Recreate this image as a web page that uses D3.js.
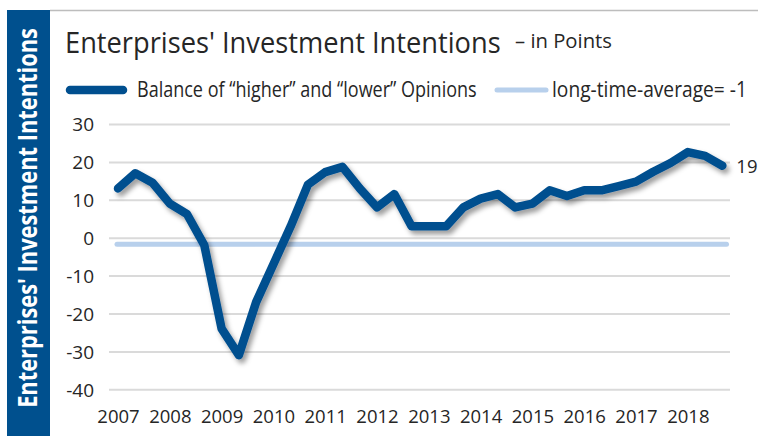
<!DOCTYPE html>
<html>
<head>
<meta charset="utf-8">
<script src="https://cdn.jsdelivr.net/npm/d3@7/dist/d3.min.js"></script>
<style>
  html, body { margin: 0; padding: 0; background: #fff; }
  svg { display: block; }
  text { font-family: "Open Sans", "Noto Sans", sans-serif; }
</style>
</head>
<body>
<svg id="chart" width="758" height="436"></svg>
<script>
// ---- data ----
const years = [2007, 2008, 2009, 2010, 2011, 2012, 2013, 2014, 2015, 2016, 2017, 2018];
// three survey points per year
const balance = [
  13, 17, 14.5,
  9, 6.2, -2,
  -24, -31, -17,
  -7, 3, 14,
  17.3, 18.7, 13,
  8, 11.5, 3,
  3, 3, 8,
  10.3, 11.5, 8,
  9, 12.5, 11,
  12.5, 12.5, 13.6,
  14.8, 17.4, 19.7,
  22.6, 21.6, 19
];
const longTimeAverage = -1.7;
const yTicks = [30, 20, 10, 0, -10, -20, -30, -40];
const titleText = "Enterprises' Investment Intentions";
const subtitleText = "– in Points";
const legendLabels = ["Balance of “higher” and “lower” Opinions", "long-time-average= -1"];
const lastLabel = "19";

// ---- drawing ----
const svg = d3.select("#chart");
const darkBlue = "#004f8f";
const lightBlue = "#b8d0ec";
const textCol = "#262626";

const x = d3.scaleLinear().domain([2007, 2019]).range([118, 739.6]);
const y = d3.scaleLinear().domain([-40, 30]).range([389.3, 124]);

// place a text and squeeze it horizontally to a target width (condensed look)
function fitted(parent, str, px, py, width, attrs, extra = "") {
  const t = parent.append("text").attr("x", 0).attr("y", 0).text(str);
  Object.entries(attrs).forEach(([k, v]) => t.attr(k, v));
  const w = t.node().getComputedTextLength();
  t.attr("transform", `translate(${px},${py}) ${extra} scale(${width / w},1)`);
  return t;
}

const defs = svg.append("defs");
const f = defs.append("filter").attr("id", "shadow")
  .attr("x", "-10%").attr("y", "-10%").attr("width", "130%").attr("height", "130%");
f.append("feDropShadow").attr("dx", 3).attr("dy", 4).attr("stdDeviation", 2.6)
  .attr("flood-color", "#000").attr("flood-opacity", 0.38);

// frame: top grey rule and blue side bar
svg.append("line").attr("x1", 50).attr("x2", 758).attr("y1", 10.5).attr("y2", 10.5)
  .attr("stroke", "#bdbdbd").attr("stroke-width", 1.6);
svg.append("rect").attr("x", 7).attr("y", 10).attr("width", 43).attr("height", 426)
  .attr("fill", "#00508e");
fitted(svg, titleText, 37, 218, 380,
  { "text-anchor": "middle", fill: "#fff", "font-weight": 700, "font-size": 27 }, "rotate(-90)");

// title
fitted(svg, titleText, 65, 53, 436,
  { fill: textCol, "font-size": 29, "font-weight": 500 });
fitted(svg, subtitleText, 515, 48, 97,
  { fill: textCol, "font-size": 20 });

// legend
const lg = svg.append("g");
lg.append("line").attr("x1", 70).attr("x2", 123).attr("y1", 90).attr("y2", 90)
  .attr("stroke", darkBlue).attr("stroke-width", 8.5).attr("stroke-linecap", "round");
fitted(lg, legendLabels[0], 137, 97, 340, { fill: textCol, "font-size": 21 });
lg.append("line").attr("x1", 497).attr("x2", 546).attr("y1", 90).attr("y2", 90)
  .attr("stroke", lightBlue).attr("stroke-width", 5).attr("stroke-linecap", "round");
fitted(lg, legendLabels[1], 552, 97, 195, { fill: textCol, "font-size": 21 });

// y axis with gridlines
const gridLeft = 109, gridRight = 730;
const yAxis = svg.append("g").attr("transform", `translate(${gridLeft},0)`)
  .call(d3.axisLeft(y).tickValues(yTicks).tickSize(-(gridRight - gridLeft)).tickPadding(15)
    .tickFormat(d => d < 0 ? "-" + Math.abs(d) : d));
yAxis.select(".domain").remove();
yAxis.selectAll(".tick line").attr("stroke", "#dadada").attr("stroke-width", 2);
yAxis.selectAll(".tick text").attr("fill", textCol).attr("font-size", 19)
  .attr("font-family", "'Open Sans', sans-serif").attr("dy", "0.36em");

// x axis labels
const xAxis = svg.append("g").attr("transform", "translate(0,403)")
  .call(d3.axisBottom(x).tickValues(years).tickSize(0).tickPadding(7).tickFormat(d3.format("d")));
xAxis.select(".domain").remove();
xAxis.selectAll(".tick text").attr("fill", textCol).attr("font-size", 18.5)
  .attr("font-family", "'Open Sans', sans-serif");

// long-time average line
svg.append("line")
  .attr("x1", 117).attr("x2", 726.5)
  .attr("y1", y(longTimeAverage)).attr("y2", y(longTimeAverage))
  .attr("stroke", lightBlue).attr("stroke-width", 5).attr("stroke-linecap", "round");

// balance line
const pts = balance.map((v, i) => [years[0] + i / 3, v]);
const line = d3.line().x(d => x(d[0])).y(d => y(d[1]));
svg.append("path").datum(pts)
  .attr("d", line)
  .attr("fill", "none")
  .attr("stroke", darkBlue).attr("stroke-width", 8.5)
  .attr("stroke-linejoin", "round").attr("stroke-linecap", "round")
  .attr("filter", "url(#shadow)");

// last value label
const last = pts[pts.length - 1];
svg.append("text").attr("x", x(last[0]) + 14).attr("y", y(last[1]) + 7)
  .attr("fill", textCol).attr("font-size", 18.5).text(lastLabel);
</script>
</body>
</html>
